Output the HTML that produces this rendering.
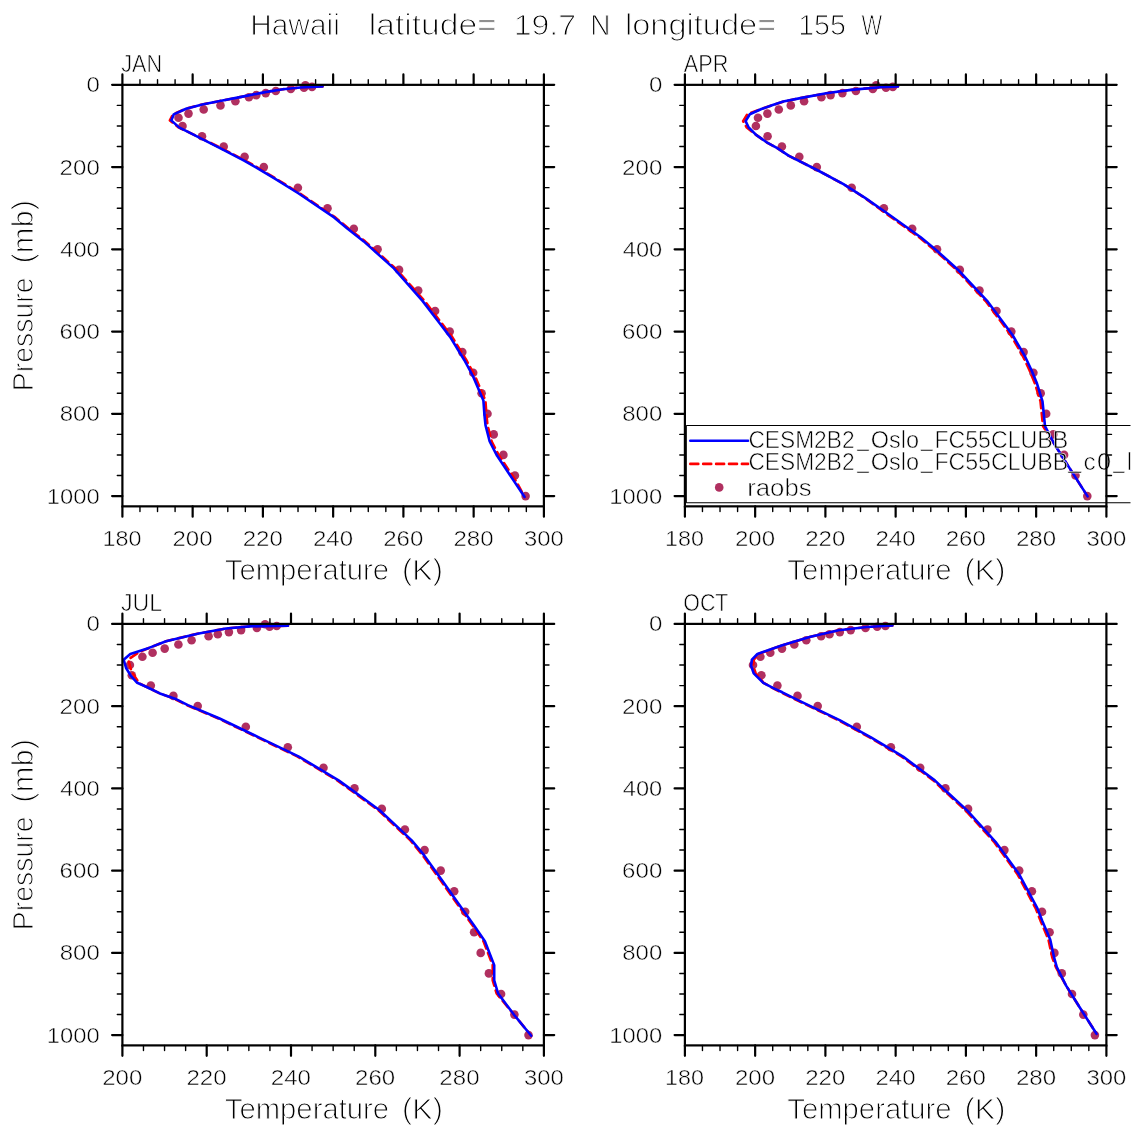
<!DOCTYPE html><html><head><meta charset="utf-8"><title>Hawaii profiles</title><style>html,body{margin:0;padding:0;background:#fff;overflow:hidden}svg{display:block;will-change:transform}text{font-family:"Liberation Sans",Arial,sans-serif;fill:#000;stroke:#fff}</style></head><body>
<svg width="1135" height="1135" viewBox="0 0 1135 1135">
<rect width="1135" height="1135" fill="#fff"/>
<defs><clipPath id="cl"><rect x="0" y="0" width="1130.5" height="1135"/></clipPath></defs>
<circle cx="525.6" cy="496.1" r="4.3" fill="#b03060"/>
<circle cx="514.9" cy="475.5" r="4.3" fill="#b03060"/>
<circle cx="503.4" cy="454.9" r="4.3" fill="#b03060"/>
<circle cx="493.7" cy="434.4" r="4.3" fill="#b03060"/>
<circle cx="487.5" cy="413.8" r="4.3" fill="#b03060"/>
<circle cx="481.6" cy="393.3" r="4.3" fill="#b03060"/>
<circle cx="473.2" cy="372.7" r="4.3" fill="#b03060"/>
<circle cx="462.3" cy="352.1" r="4.3" fill="#b03060"/>
<circle cx="449.7" cy="331.6" r="4.3" fill="#b03060"/>
<circle cx="435.1" cy="311.0" r="4.3" fill="#b03060"/>
<circle cx="418.2" cy="290.5" r="4.3" fill="#b03060"/>
<circle cx="399.1" cy="269.9" r="4.3" fill="#b03060"/>
<circle cx="377.6" cy="249.3" r="4.3" fill="#b03060"/>
<circle cx="353.8" cy="228.8" r="4.3" fill="#b03060"/>
<circle cx="327.5" cy="208.2" r="4.3" fill="#b03060"/>
<circle cx="297.9" cy="187.7" r="4.3" fill="#b03060"/>
<circle cx="263.8" cy="167.1" r="4.3" fill="#b03060"/>
<circle cx="244.6" cy="156.8" r="4.3" fill="#b03060"/>
<circle cx="223.7" cy="146.5" r="4.3" fill="#b03060"/>
<circle cx="202.0" cy="136.3" r="4.3" fill="#b03060"/>
<circle cx="182.5" cy="126.0" r="4.3" fill="#b03060"/>
<circle cx="178.5" cy="117.7" r="4.3" fill="#b03060"/>
<circle cx="188.5" cy="113.6" r="4.3" fill="#b03060"/>
<circle cx="203.7" cy="109.5" r="4.3" fill="#b03060"/>
<circle cx="220.5" cy="105.4" r="4.3" fill="#b03060"/>
<circle cx="235.4" cy="101.3" r="4.3" fill="#b03060"/>
<circle cx="248.9" cy="97.2" r="4.3" fill="#b03060"/>
<circle cx="256.3" cy="95.1" r="4.3" fill="#b03060"/>
<circle cx="265.7" cy="93.1" r="4.3" fill="#b03060"/>
<circle cx="275.8" cy="91.0" r="4.3" fill="#b03060"/>
<circle cx="290.8" cy="89.0" r="4.3" fill="#b03060"/>
<circle cx="305.4" cy="85.3" r="4.3" fill="#b03060"/>
<circle cx="304.0" cy="87.7" r="4.3" fill="#b03060"/>
<circle cx="312.0" cy="86.9" r="4.3" fill="#b03060"/>
<circle cx="1087.3" cy="496.1" r="4.3" fill="#b03060"/>
<circle cx="1075.5" cy="475.5" r="4.3" fill="#b03060"/>
<circle cx="1064.1" cy="454.9" r="4.3" fill="#b03060"/>
<circle cx="1053.3" cy="434.4" r="4.3" fill="#b03060"/>
<circle cx="1046.2" cy="413.8" r="4.3" fill="#b03060"/>
<circle cx="1040.7" cy="393.3" r="4.3" fill="#b03060"/>
<circle cx="1033.4" cy="372.7" r="4.3" fill="#b03060"/>
<circle cx="1023.6" cy="352.1" r="4.3" fill="#b03060"/>
<circle cx="1011.3" cy="331.6" r="4.3" fill="#b03060"/>
<circle cx="996.5" cy="311.0" r="4.3" fill="#b03060"/>
<circle cx="979.5" cy="290.5" r="4.3" fill="#b03060"/>
<circle cx="959.8" cy="269.9" r="4.3" fill="#b03060"/>
<circle cx="937.0" cy="249.3" r="4.3" fill="#b03060"/>
<circle cx="912.2" cy="228.8" r="4.3" fill="#b03060"/>
<circle cx="883.9" cy="208.2" r="4.3" fill="#b03060"/>
<circle cx="851.7" cy="187.7" r="4.3" fill="#b03060"/>
<circle cx="816.8" cy="167.1" r="4.3" fill="#b03060"/>
<circle cx="799.3" cy="156.8" r="4.3" fill="#b03060"/>
<circle cx="781.9" cy="146.5" r="4.3" fill="#b03060"/>
<circle cx="767.6" cy="136.3" r="4.3" fill="#b03060"/>
<circle cx="755.9" cy="126.0" r="4.3" fill="#b03060"/>
<circle cx="758.0" cy="117.7" r="4.3" fill="#b03060"/>
<circle cx="767.4" cy="113.6" r="4.3" fill="#b03060"/>
<circle cx="778.8" cy="109.5" r="4.3" fill="#b03060"/>
<circle cx="790.8" cy="105.4" r="4.3" fill="#b03060"/>
<circle cx="804.1" cy="101.3" r="4.3" fill="#b03060"/>
<circle cx="821.4" cy="97.2" r="4.3" fill="#b03060"/>
<circle cx="830.6" cy="95.1" r="4.3" fill="#b03060"/>
<circle cx="842.4" cy="93.1" r="4.3" fill="#b03060"/>
<circle cx="855.9" cy="91.0" r="4.3" fill="#b03060"/>
<circle cx="872.8" cy="89.0" r="4.3" fill="#b03060"/>
<circle cx="876.2" cy="85.3" r="4.3" fill="#b03060"/>
<circle cx="886.0" cy="87.7" r="4.3" fill="#b03060"/>
<circle cx="892.8" cy="86.9" r="4.3" fill="#b03060"/>
<circle cx="528.5" cy="1035.1" r="4.3" fill="#b03060"/>
<circle cx="514.4" cy="1014.6" r="4.3" fill="#b03060"/>
<circle cx="501.1" cy="994.0" r="4.3" fill="#b03060"/>
<circle cx="488.9" cy="973.4" r="4.3" fill="#b03060"/>
<circle cx="480.7" cy="952.9" r="4.3" fill="#b03060"/>
<circle cx="474.1" cy="932.3" r="4.3" fill="#b03060"/>
<circle cx="465.2" cy="911.8" r="4.3" fill="#b03060"/>
<circle cx="454.2" cy="891.2" r="4.3" fill="#b03060"/>
<circle cx="440.7" cy="870.6" r="4.3" fill="#b03060"/>
<circle cx="424.6" cy="850.1" r="4.3" fill="#b03060"/>
<circle cx="404.9" cy="829.5" r="4.3" fill="#b03060"/>
<circle cx="381.8" cy="808.9" r="4.3" fill="#b03060"/>
<circle cx="354.5" cy="788.4" r="4.3" fill="#b03060"/>
<circle cx="323.5" cy="767.8" r="4.3" fill="#b03060"/>
<circle cx="287.8" cy="747.3" r="4.3" fill="#b03060"/>
<circle cx="245.8" cy="726.7" r="4.3" fill="#b03060"/>
<circle cx="197.7" cy="706.1" r="4.3" fill="#b03060"/>
<circle cx="173.4" cy="695.9" r="4.3" fill="#b03060"/>
<circle cx="150.8" cy="685.6" r="4.3" fill="#b03060"/>
<circle cx="131.8" cy="675.3" r="4.3" fill="#b03060"/>
<circle cx="129.9" cy="665.0" r="4.3" fill="#b03060"/>
<circle cx="142.4" cy="656.8" r="4.3" fill="#b03060"/>
<circle cx="152.6" cy="652.7" r="4.3" fill="#b03060"/>
<circle cx="164.7" cy="648.6" r="4.3" fill="#b03060"/>
<circle cx="178.4" cy="644.5" r="4.3" fill="#b03060"/>
<circle cx="191.6" cy="640.3" r="4.3" fill="#b03060"/>
<circle cx="208.6" cy="636.2" r="4.3" fill="#b03060"/>
<circle cx="217.8" cy="634.2" r="4.3" fill="#b03060"/>
<circle cx="228.9" cy="632.1" r="4.3" fill="#b03060"/>
<circle cx="241.1" cy="630.1" r="4.3" fill="#b03060"/>
<circle cx="256.9" cy="628.0" r="4.3" fill="#b03060"/>
<circle cx="265.1" cy="624.3" r="4.3" fill="#b03060"/>
<circle cx="269.6" cy="626.8" r="4.3" fill="#b03060"/>
<circle cx="276.7" cy="626.0" r="4.3" fill="#b03060"/>
<circle cx="1094.9" cy="1035.1" r="4.3" fill="#b03060"/>
<circle cx="1083.3" cy="1014.6" r="4.3" fill="#b03060"/>
<circle cx="1072.0" cy="994.0" r="4.3" fill="#b03060"/>
<circle cx="1061.8" cy="973.4" r="4.3" fill="#b03060"/>
<circle cx="1054.4" cy="952.9" r="4.3" fill="#b03060"/>
<circle cx="1049.6" cy="932.3" r="4.3" fill="#b03060"/>
<circle cx="1042.0" cy="911.8" r="4.3" fill="#b03060"/>
<circle cx="1031.9" cy="891.2" r="4.3" fill="#b03060"/>
<circle cx="1019.2" cy="870.6" r="4.3" fill="#b03060"/>
<circle cx="1004.4" cy="850.1" r="4.3" fill="#b03060"/>
<circle cx="987.5" cy="829.5" r="4.3" fill="#b03060"/>
<circle cx="968.1" cy="808.9" r="4.3" fill="#b03060"/>
<circle cx="945.4" cy="788.4" r="4.3" fill="#b03060"/>
<circle cx="920.2" cy="767.8" r="4.3" fill="#b03060"/>
<circle cx="890.9" cy="747.3" r="4.3" fill="#b03060"/>
<circle cx="856.8" cy="726.7" r="4.3" fill="#b03060"/>
<circle cx="817.7" cy="706.1" r="4.3" fill="#b03060"/>
<circle cx="797.5" cy="695.9" r="4.3" fill="#b03060"/>
<circle cx="777.4" cy="685.6" r="4.3" fill="#b03060"/>
<circle cx="761.4" cy="675.3" r="4.3" fill="#b03060"/>
<circle cx="753.0" cy="665.0" r="4.3" fill="#b03060"/>
<circle cx="760.4" cy="656.8" r="4.3" fill="#b03060"/>
<circle cx="770.3" cy="652.7" r="4.3" fill="#b03060"/>
<circle cx="782.0" cy="648.6" r="4.3" fill="#b03060"/>
<circle cx="794.3" cy="644.5" r="4.3" fill="#b03060"/>
<circle cx="806.3" cy="640.3" r="4.3" fill="#b03060"/>
<circle cx="821.1" cy="636.2" r="4.3" fill="#b03060"/>
<circle cx="829.5" cy="634.2" r="4.3" fill="#b03060"/>
<circle cx="839.8" cy="632.1" r="4.3" fill="#b03060"/>
<circle cx="850.7" cy="630.1" r="4.3" fill="#b03060"/>
<circle cx="865.5" cy="628.0" r="4.3" fill="#b03060"/>
<circle cx="877.2" cy="626.8" r="4.3" fill="#b03060"/>
<circle cx="885.4" cy="626.0" r="4.3" fill="#b03060"/>
<polyline points="322.5,86.4 300.5,87.5 282.9,89.2 265.2,92.1 247.6,95.6 240.0,97.1 219.9,101.0 202.3,104.5 186.1,108.7 173.0,114.4 169.9,120.4 178.6,127.4 190.0,132.9 223.2,149.1 245.3,160.6 257.6,167.6 275.2,178.2 299.9,193.5 335.3,217.4 348.5,228.5 365.1,241.4 395.5,268.4 424.5,300.9 440.3,321.5 452.1,336.9 466.4,360.2 474.9,376.0 485.4,400.4 486.4,414.5 487.5,425.1 491.7,441.5 499.1,455.8 507.6,468.4 516.0,481.1 524.6,497.0" fill="none" stroke="#f00" stroke-width="2.6" stroke-linecap="round" stroke-linejoin="round" stroke-dasharray="8.0 4.9"/>
<polyline points="322.5,86.4 300.5,87.5 282.9,89.2 265.2,92.1 247.6,95.6 240.0,97.1 219.9,101.0 202.3,104.5 186.1,108.7 173.7,114.4 171.3,120.4 179.0,127.4 190.0,132.9 222.0,149.1 244.1,160.6 256.4,167.6 274.0,178.2 298.7,193.5 334.1,217.4 347.3,228.5 363.8,241.4 393.9,268.4 422.5,300.9 438.3,321.5 450.1,336.9 464.4,360.2 472.9,376.0 483.4,400.4 484.4,414.5 485.5,425.1 489.7,441.5 497.1,455.8 505.6,468.4 514.0,481.1 524.6,497.0" fill="none" stroke="#00f" stroke-width="2.6" stroke-linecap="round" stroke-linejoin="round"/>
<polyline points="898.0,86.5 880.0,87.2 851.0,89.9 826.3,93.3 801.7,97.9 783.2,101.6 772.0,105.3 761.4,109.0 747.3,114.3 743.1,121.1 746.8,127.5 756.1,134.9 766.7,142.3 777.3,148.1 789.0,155.9 817.1,170.0 843.5,184.2 864.8,197.9 887.4,214.5 919.2,237.3 937.0,252.1 956.7,270.0 986.2,301.7 1010.8,335.0 1022.8,356.0 1029.4,370.0 1035.0,383.6 1040.5,401.4 1043.0,426.1 1054.3,444.0 1069.1,467.4 1087.6,496.4" fill="none" stroke="#f00" stroke-width="2.6" stroke-linecap="round" stroke-linejoin="round" stroke-dasharray="8.0 4.9"/>
<polyline points="898.0,86.5 880.0,87.2 851.0,89.9 826.3,93.3 801.7,97.9 783.2,101.6 772.0,105.3 761.4,109.0 749.8,114.3 745.6,121.1 748.7,127.5 756.1,134.9 766.7,142.3 777.3,148.1 789.0,155.9 817.1,170.0 843.5,184.2 865.1,197.9 888.9,214.5 920.7,237.3 938.5,252.1 958.2,270.0 987.8,301.7 1012.5,335.0 1024.8,356.0 1031.4,370.0 1037.0,383.6 1042.5,401.4 1045.0,426.1 1054.3,444.0 1069.1,467.4 1087.6,496.4" fill="none" stroke="#00f" stroke-width="2.6" stroke-linecap="round" stroke-linejoin="round"/>
<polyline points="288.0,625.8 249.8,626.4 226.0,628.5 197.5,633.7 166.0,641.2 149.0,647.9 138.8,652.2 128.2,659.6 129.3,663.3 131.4,671.2 137.2,680.2 139.5,683.5 146.7,687.0 159.6,693.4 174.3,698.7 186.7,705.1 218.4,718.5 258.1,737.6 297.6,756.6 337.3,780.4 348.7,788.6 378.3,810.2 410.4,840.4 422.6,855.2 441.1,881.1 455.9,902.1 473.0,926.1 483.5,941.3 492.7,965.1 492.7,980.3 496.6,993.5 514.0,1014.7 531.2,1035.8" fill="none" stroke="#f00" stroke-width="2.6" stroke-linecap="round" stroke-linejoin="round" stroke-dasharray="8.0 4.9"/>
<polyline points="288.0,625.8 249.8,626.4 226.0,628.5 197.5,633.7 166.0,641.2 149.0,647.9 130.3,654.0 123.7,659.8 126.1,668.0 130.9,675.9 137.2,682.8 146.7,687.0 159.9,693.4 175.0,698.7 187.9,705.1 219.6,718.5 259.3,737.6 298.9,756.6 338.6,780.4 350.0,788.6 379.6,810.2 411.7,840.4 424.0,855.2 442.5,881.1 457.3,902.1 474.4,926.1 484.9,941.3 494.2,965.1 494.2,980.3 498.1,993.5 514.0,1014.7 531.2,1035.8" fill="none" stroke="#00f" stroke-width="2.6" stroke-linecap="round" stroke-linejoin="round"/>
<polyline points="892.4,625.5 866.9,627.0 838.7,630.2 810.5,636.8 782.3,645.3 758.5,654.0 753.9,659.6 753.1,665.9 755.7,673.3 763.6,682.8 773.7,688.6 781.1,692.3 798.8,701.1 838.3,720.1 870.1,737.6 901.8,756.6 933.4,780.4 943.5,790.0 965.6,810.4 994.0,841.8 1017.3,873.9 1035.7,908.4 1040.6,920.9 1048.4,939.4 1052.4,957.9 1055.9,967.1 1066.1,985.6 1079.3,1006.8 1096.5,1033.8" fill="none" stroke="#f00" stroke-width="2.6" stroke-linecap="round" stroke-linejoin="round" stroke-dasharray="8.0 4.9"/>
<polyline points="892.4,625.5 866.9,627.0 838.7,630.2 810.5,636.8 782.3,645.3 757.4,654.0 751.9,659.6 751.1,665.9 753.7,673.3 763.3,682.8 774.4,688.6 782.3,692.3 800.0,701.1 839.6,720.1 871.4,737.6 903.1,756.6 934.8,780.4 944.9,790.0 967.1,810.4 995.5,841.8 1018.9,873.9 1037.4,908.4 1042.3,920.9 1050.2,939.4 1054.2,957.9 1056.8,967.1 1066.1,985.6 1079.3,1006.8 1096.5,1033.8" fill="none" stroke="#00f" stroke-width="2.6" stroke-linecap="round" stroke-linejoin="round"/>
<g clip-path="url(#cl)">
<path d="M686.3,425.5H1131M686.3,502.7H1131M686.3,425.5V502.7" stroke="#000" stroke-width="1.1" fill="none"/>
<line x1="690.3" y1="440.8" x2="748.1" y2="440.8" stroke="#00f" stroke-width="2.6" stroke-linecap="round"/>
<line x1="690.3" y1="463.9" x2="748.1" y2="463.9" stroke="#f00" stroke-width="2.6" stroke-linecap="round" stroke-dasharray="8.0 4.9"/>
<circle cx="719.2" cy="487.4" r="4.3" fill="#b03060"/>
<text x="748.43" y="447.91" font-size="23.91" textLength="106.12" lengthAdjust="spacingAndGlyphs" style="stroke-width:0.62px">CESM2B2</text>
<text x="870.67" y="447.91" font-size="23.91" textLength="48.32" lengthAdjust="spacingAndGlyphs" style="stroke-width:0.62px">Oslo</text>
<text x="934.39" y="447.91" font-size="23.91" textLength="133.84" lengthAdjust="spacingAndGlyphs" style="stroke-width:0.62px">FC55CLUBB</text>
<text x="857.30" y="445.71" font-size="23.91" textLength="11.58" lengthAdjust="spacingAndGlyphs" style="stroke-width:0.62px">_</text>
<text x="921.01" y="445.71" font-size="23.91" textLength="11.67" lengthAdjust="spacingAndGlyphs" style="stroke-width:0.62px">_</text>
<text x="748.43" y="470.11" font-size="23.91" textLength="106.12" lengthAdjust="spacingAndGlyphs" style="stroke-width:0.62px">CESM2B2</text>
<text x="870.67" y="470.11" font-size="23.91" textLength="48.32" lengthAdjust="spacingAndGlyphs" style="stroke-width:0.62px">Oslo</text>
<text x="934.39" y="470.11" font-size="23.91" textLength="133.84" lengthAdjust="spacingAndGlyphs" style="stroke-width:0.62px">FC55CLUBB</text>
<text x="857.30" y="467.91" font-size="23.91" textLength="11.58" lengthAdjust="spacingAndGlyphs" style="stroke-width:0.62px">_</text>
<text x="921.01" y="467.91" font-size="23.91" textLength="11.67" lengthAdjust="spacingAndGlyphs" style="stroke-width:0.62px">_</text>
<text x="1068.14" y="467.91" font-size="23.91" textLength="13.01" lengthAdjust="spacingAndGlyphs" style="stroke-width:0.62px">_</text>
<text x="1083.45" y="470.11" font-size="23.91" textLength="12.20" lengthAdjust="spacingAndGlyphs" style="stroke-width:0.62px">c</text>
<text x="1096.90" y="470.11" font-size="23.91" textLength="14.11" lengthAdjust="spacingAndGlyphs" style="stroke-width:0.62px">0</text>
<text x="1113.20" y="467.91" font-size="23.91" textLength="11.29" lengthAdjust="spacingAndGlyphs" style="stroke-width:0.62px">_</text>
<text x="1127.01" y="470.11" font-size="23.91" textLength="4.86" lengthAdjust="spacingAndGlyphs" style="stroke-width:0.62px">l</text>
<text x="747.17" y="495.71" font-size="23.91" textLength="64.57" lengthAdjust="spacingAndGlyphs" style="stroke-width:0.62px">raobs</text>
</g>
<text x="250.19" y="35.26" font-size="30.34" textLength="89.59" lengthAdjust="spacingAndGlyphs" style="stroke-width:1.13px">Hawaii</text>
<text x="368.77" y="35.26" font-size="30.34" textLength="127.95" lengthAdjust="spacingAndGlyphs" style="stroke-width:1.13px">latitude=</text>
<text x="513.70" y="35.26" font-size="30.34" textLength="62.38" lengthAdjust="spacingAndGlyphs" style="stroke-width:1.13px">19.7</text>
<text x="590.24" y="35.26" font-size="30.34" textLength="20.20" lengthAdjust="spacingAndGlyphs" style="stroke-width:1.13px">N</text>
<text x="625.04" y="35.26" font-size="30.34" textLength="151.12" lengthAdjust="spacingAndGlyphs" style="stroke-width:1.13px">longitude=</text>
<text x="798.16" y="35.26" font-size="30.34" textLength="47.70" lengthAdjust="spacingAndGlyphs" style="stroke-width:1.13px">155</text>
<text x="861.44" y="35.26" font-size="30.34" textLength="20.70" lengthAdjust="spacingAndGlyphs" style="stroke-width:1.13px">W</text>
<path d="M117.30,105.41H122.40M543.90,105.41H549.00M117.30,125.97H122.40M543.90,125.97H549.00M117.30,146.53H122.40M543.90,146.53H549.00M117.30,187.65H122.40M543.90,187.65H549.00M117.30,208.22H122.40M543.90,208.22H549.00M117.30,228.78H122.40M543.90,228.78H549.00M117.30,269.90H122.40M543.90,269.90H549.00M117.30,290.46H122.40M543.90,290.46H549.00M117.30,311.02H122.40M543.90,311.02H549.00M117.30,352.14H122.40M543.90,352.14H549.00M117.30,372.70H122.40M543.90,372.70H549.00M117.30,393.26H122.40M543.90,393.26H549.00M117.30,434.39H122.40M543.90,434.39H549.00M117.30,454.95H122.40M543.90,454.95H549.00M117.30,475.51H122.40M543.90,475.51H549.00M139.96,79.65V84.85M139.96,506.35V511.55M157.53,79.65V84.85M157.53,506.35V511.55M175.09,79.65V84.85M175.09,506.35V511.55M210.21,79.65V84.85M210.21,506.35V511.55M227.78,79.65V84.85M227.78,506.35V511.55M245.34,79.65V84.85M245.34,506.35V511.55M280.46,79.65V84.85M280.46,506.35V511.55M298.02,79.65V84.85M298.02,506.35V511.55M315.59,79.65V84.85M315.59,506.35V511.55M350.71,79.65V84.85M350.71,506.35V511.55M368.27,79.65V84.85M368.27,506.35V511.55M385.84,79.65V84.85M385.84,506.35V511.55M420.96,79.65V84.85M420.96,506.35V511.55M438.52,79.65V84.85M438.52,506.35V511.55M456.09,79.65V84.85M456.09,506.35V511.55M491.21,79.65V84.85M491.21,506.35V511.55M508.77,79.65V84.85M508.77,506.35V511.55M526.34,79.65V84.85M526.34,506.35V511.55" stroke="#000" stroke-width="1.4" stroke-linecap="round" fill="none"/>
<path d="M112.10,84.85H122.40M543.90,84.85H554.20M112.10,167.09H122.40M543.90,167.09H554.20M112.10,249.34H122.40M543.90,249.34H554.20M112.10,331.58H122.40M543.90,331.58H554.20M112.10,413.83H122.40M543.90,413.83H554.20M112.10,496.07H122.40M543.90,496.07H554.20M122.40,74.45V84.85M122.40,506.35V516.75M192.65,74.45V84.85M192.65,506.35V516.75M262.90,74.45V84.85M262.90,506.35V516.75M333.15,74.45V84.85M333.15,506.35V516.75M403.40,74.45V84.85M403.40,506.35V516.75M473.65,74.45V84.85M473.65,506.35V516.75M543.90,74.45V84.85M543.90,506.35V516.75" stroke="#000" stroke-width="2.2" stroke-linecap="round" fill="none"/>
<rect x="122.40" y="84.85" width="421.5" height="421.5" fill="none" stroke="#000" stroke-width="2.2"/>
<text x="86.41" y="92.30" font-size="22.33" textLength="13.38" lengthAdjust="spacingAndGlyphs" style="stroke-width:0.50px">0</text>
<text x="59.64" y="174.54" font-size="22.33" textLength="40.15" lengthAdjust="spacingAndGlyphs" style="stroke-width:0.50px">200</text>
<text x="60.31" y="256.79" font-size="22.33" textLength="39.47" lengthAdjust="spacingAndGlyphs" style="stroke-width:0.50px">400</text>
<text x="59.63" y="339.03" font-size="22.33" textLength="40.16" lengthAdjust="spacingAndGlyphs" style="stroke-width:0.50px">600</text>
<text x="59.81" y="421.28" font-size="22.33" textLength="39.98" lengthAdjust="spacingAndGlyphs" style="stroke-width:0.50px">800</text>
<text x="46.84" y="503.52" font-size="22.33" textLength="52.94" lengthAdjust="spacingAndGlyphs" style="stroke-width:0.50px">1000</text>
<text x="102.52" y="545.70" font-size="22.33" textLength="38.89" lengthAdjust="spacingAndGlyphs" style="stroke-width:0.50px">180</text>
<text x="172.44" y="545.70" font-size="22.33" textLength="40.15" lengthAdjust="spacingAndGlyphs" style="stroke-width:0.50px">200</text>
<text x="242.69" y="545.70" font-size="22.33" textLength="40.15" lengthAdjust="spacingAndGlyphs" style="stroke-width:0.50px">220</text>
<text x="312.94" y="545.70" font-size="22.33" textLength="40.15" lengthAdjust="spacingAndGlyphs" style="stroke-width:0.50px">240</text>
<text x="383.19" y="545.70" font-size="22.33" textLength="40.15" lengthAdjust="spacingAndGlyphs" style="stroke-width:0.50px">260</text>
<text x="453.44" y="545.70" font-size="22.33" textLength="40.15" lengthAdjust="spacingAndGlyphs" style="stroke-width:0.50px">280</text>
<text x="523.99" y="545.70" font-size="22.33" textLength="39.84" lengthAdjust="spacingAndGlyphs" style="stroke-width:0.50px">300</text>
<text x="121.24" y="72.08" font-size="24.25" textLength="40.75" lengthAdjust="spacingAndGlyphs" style="stroke-width:0.65px">JAN</text>
<text x="224.84" y="580.06" font-size="29.10" textLength="164.25" lengthAdjust="spacingAndGlyphs" style="stroke-width:1.03px">Temperature</text>
<text x="402.09" y="580.06" font-size="29.10" textLength="40.83" lengthAdjust="spacingAndGlyphs" style="stroke-width:1.03px">(K)</text>
<text transform="translate(32.51,388.91) rotate(-90)" x="-2.34" y="0" font-size="29.10" textLength="113.93" lengthAdjust="spacingAndGlyphs" style="stroke-width:1.03px">Pressure</text>
<text transform="translate(32.51,261.71) rotate(-90)" x="-1.92" y="0" font-size="29.10" textLength="63.67" lengthAdjust="spacingAndGlyphs" style="stroke-width:1.03px">(mb)</text>
<path d="M679.80,105.41H684.90M1106.40,105.41H1111.50M679.80,125.97H684.90M1106.40,125.97H1111.50M679.80,146.53H684.90M1106.40,146.53H1111.50M679.80,187.65H684.90M1106.40,187.65H1111.50M679.80,208.22H684.90M1106.40,208.22H1111.50M679.80,228.78H684.90M1106.40,228.78H1111.50M679.80,269.90H684.90M1106.40,269.90H1111.50M679.80,290.46H684.90M1106.40,290.46H1111.50M679.80,311.02H684.90M1106.40,311.02H1111.50M679.80,352.14H684.90M1106.40,352.14H1111.50M679.80,372.70H684.90M1106.40,372.70H1111.50M679.80,393.26H684.90M1106.40,393.26H1111.50M679.80,434.39H684.90M1106.40,434.39H1111.50M679.80,454.95H684.90M1106.40,454.95H1111.50M679.80,475.51H684.90M1106.40,475.51H1111.50M702.46,79.65V84.85M702.46,506.35V511.55M720.02,79.65V84.85M720.02,506.35V511.55M737.59,79.65V84.85M737.59,506.35V511.55M772.71,79.65V84.85M772.71,506.35V511.55M790.27,79.65V84.85M790.27,506.35V511.55M807.84,79.65V84.85M807.84,506.35V511.55M842.96,79.65V84.85M842.96,506.35V511.55M860.52,79.65V84.85M860.52,506.35V511.55M878.09,79.65V84.85M878.09,506.35V511.55M913.21,79.65V84.85M913.21,506.35V511.55M930.77,79.65V84.85M930.77,506.35V511.55M948.34,79.65V84.85M948.34,506.35V511.55M983.46,79.65V84.85M983.46,506.35V511.55M1001.02,79.65V84.85M1001.02,506.35V511.55M1018.59,79.65V84.85M1018.59,506.35V511.55M1053.71,79.65V84.85M1053.71,506.35V511.55M1071.28,79.65V84.85M1071.28,506.35V511.55M1088.84,79.65V84.85M1088.84,506.35V511.55" stroke="#000" stroke-width="1.4" stroke-linecap="round" fill="none"/>
<path d="M674.60,84.85H684.90M1106.40,84.85H1116.70M674.60,167.09H684.90M1106.40,167.09H1116.70M674.60,249.34H684.90M1106.40,249.34H1116.70M674.60,331.58H684.90M1106.40,331.58H1116.70M674.60,413.83H684.90M1106.40,413.83H1116.70M674.60,496.07H684.90M1106.40,496.07H1116.70M684.90,74.45V84.85M684.90,506.35V516.75M755.15,74.45V84.85M755.15,506.35V516.75M825.40,74.45V84.85M825.40,506.35V516.75M895.65,74.45V84.85M895.65,506.35V516.75M965.90,74.45V84.85M965.90,506.35V516.75M1036.15,74.45V84.85M1036.15,506.35V516.75M1106.40,74.45V84.85M1106.40,506.35V516.75" stroke="#000" stroke-width="2.2" stroke-linecap="round" fill="none"/>
<rect x="684.90" y="84.85" width="421.5" height="421.5" fill="none" stroke="#000" stroke-width="2.2"/>
<text x="648.91" y="92.30" font-size="22.33" textLength="13.38" lengthAdjust="spacingAndGlyphs" style="stroke-width:0.50px">0</text>
<text x="622.14" y="174.54" font-size="22.33" textLength="40.15" lengthAdjust="spacingAndGlyphs" style="stroke-width:0.50px">200</text>
<text x="622.81" y="256.79" font-size="22.33" textLength="39.47" lengthAdjust="spacingAndGlyphs" style="stroke-width:0.50px">400</text>
<text x="622.13" y="339.03" font-size="22.33" textLength="40.16" lengthAdjust="spacingAndGlyphs" style="stroke-width:0.50px">600</text>
<text x="622.31" y="421.28" font-size="22.33" textLength="39.98" lengthAdjust="spacingAndGlyphs" style="stroke-width:0.50px">800</text>
<text x="609.34" y="503.52" font-size="22.33" textLength="52.94" lengthAdjust="spacingAndGlyphs" style="stroke-width:0.50px">1000</text>
<text x="665.02" y="545.70" font-size="22.33" textLength="38.89" lengthAdjust="spacingAndGlyphs" style="stroke-width:0.50px">180</text>
<text x="734.94" y="545.70" font-size="22.33" textLength="40.15" lengthAdjust="spacingAndGlyphs" style="stroke-width:0.50px">200</text>
<text x="805.19" y="545.70" font-size="22.33" textLength="40.15" lengthAdjust="spacingAndGlyphs" style="stroke-width:0.50px">220</text>
<text x="875.44" y="545.70" font-size="22.33" textLength="40.15" lengthAdjust="spacingAndGlyphs" style="stroke-width:0.50px">240</text>
<text x="945.69" y="545.70" font-size="22.33" textLength="40.15" lengthAdjust="spacingAndGlyphs" style="stroke-width:0.50px">260</text>
<text x="1015.94" y="545.70" font-size="22.33" textLength="40.15" lengthAdjust="spacingAndGlyphs" style="stroke-width:0.50px">280</text>
<text x="1086.49" y="545.70" font-size="22.33" textLength="39.84" lengthAdjust="spacingAndGlyphs" style="stroke-width:0.50px">300</text>
<text x="683.83" y="72.08" font-size="24.25" textLength="44.60" lengthAdjust="spacingAndGlyphs" style="stroke-width:0.65px">APR</text>
<text x="787.34" y="580.06" font-size="29.10" textLength="164.25" lengthAdjust="spacingAndGlyphs" style="stroke-width:1.03px">Temperature</text>
<text x="964.59" y="580.06" font-size="29.10" textLength="40.83" lengthAdjust="spacingAndGlyphs" style="stroke-width:1.03px">(K)</text>
<path d="M117.30,644.46H122.40M543.90,644.46H549.00M117.30,665.02H122.40M543.90,665.02H549.00M117.30,685.58H122.40M543.90,685.58H549.00M117.30,726.70H122.40M543.90,726.70H549.00M117.30,747.27H122.40M543.90,747.27H549.00M117.30,767.83H122.40M543.90,767.83H549.00M117.30,808.95H122.40M543.90,808.95H549.00M117.30,829.51H122.40M543.90,829.51H549.00M117.30,850.07H122.40M543.90,850.07H549.00M117.30,891.19H122.40M543.90,891.19H549.00M117.30,911.75H122.40M543.90,911.75H549.00M117.30,932.31H122.40M543.90,932.31H549.00M117.30,973.44H122.40M543.90,973.44H549.00M117.30,994.00H122.40M543.90,994.00H549.00M117.30,1014.56H122.40M543.90,1014.56H549.00M143.47,618.70V623.90M143.47,1045.40V1050.60M164.55,618.70V623.90M164.55,1045.40V1050.60M185.62,618.70V623.90M185.62,1045.40V1050.60M227.78,618.70V623.90M227.78,1045.40V1050.60M248.85,618.70V623.90M248.85,1045.40V1050.60M269.93,618.70V623.90M269.93,1045.40V1050.60M312.07,618.70V623.90M312.07,1045.40V1050.60M333.15,618.70V623.90M333.15,1045.40V1050.60M354.23,618.70V623.90M354.23,1045.40V1050.60M396.38,618.70V623.90M396.38,1045.40V1050.60M417.45,618.70V623.90M417.45,1045.40V1050.60M438.52,618.70V623.90M438.52,1045.40V1050.60M480.67,618.70V623.90M480.67,1045.40V1050.60M501.75,618.70V623.90M501.75,1045.40V1050.60M522.83,618.70V623.90M522.83,1045.40V1050.60" stroke="#000" stroke-width="1.4" stroke-linecap="round" fill="none"/>
<path d="M112.10,623.90H122.40M543.90,623.90H554.20M112.10,706.14H122.40M543.90,706.14H554.20M112.10,788.39H122.40M543.90,788.39H554.20M112.10,870.63H122.40M543.90,870.63H554.20M112.10,952.88H122.40M543.90,952.88H554.20M112.10,1035.12H122.40M543.90,1035.12H554.20M122.40,613.50V623.90M122.40,1045.40V1055.80M206.70,613.50V623.90M206.70,1045.40V1055.80M291.00,613.50V623.90M291.00,1045.40V1055.80M375.30,613.50V623.90M375.30,1045.40V1055.80M459.60,613.50V623.90M459.60,1045.40V1055.80M543.90,613.50V623.90M543.90,1045.40V1055.80" stroke="#000" stroke-width="2.2" stroke-linecap="round" fill="none"/>
<rect x="122.40" y="623.90" width="421.5" height="421.5" fill="none" stroke="#000" stroke-width="2.2"/>
<text x="86.41" y="631.35" font-size="22.33" textLength="13.38" lengthAdjust="spacingAndGlyphs" style="stroke-width:0.50px">0</text>
<text x="59.64" y="713.59" font-size="22.33" textLength="40.15" lengthAdjust="spacingAndGlyphs" style="stroke-width:0.50px">200</text>
<text x="60.31" y="795.84" font-size="22.33" textLength="39.47" lengthAdjust="spacingAndGlyphs" style="stroke-width:0.50px">400</text>
<text x="59.63" y="878.08" font-size="22.33" textLength="40.16" lengthAdjust="spacingAndGlyphs" style="stroke-width:0.50px">600</text>
<text x="59.81" y="960.33" font-size="22.33" textLength="39.98" lengthAdjust="spacingAndGlyphs" style="stroke-width:0.50px">800</text>
<text x="46.84" y="1042.57" font-size="22.33" textLength="52.94" lengthAdjust="spacingAndGlyphs" style="stroke-width:0.50px">1000</text>
<text x="102.19" y="1084.75" font-size="22.33" textLength="40.15" lengthAdjust="spacingAndGlyphs" style="stroke-width:0.50px">200</text>
<text x="186.49" y="1084.75" font-size="22.33" textLength="40.15" lengthAdjust="spacingAndGlyphs" style="stroke-width:0.50px">220</text>
<text x="270.79" y="1084.75" font-size="22.33" textLength="40.15" lengthAdjust="spacingAndGlyphs" style="stroke-width:0.50px">240</text>
<text x="355.09" y="1084.75" font-size="22.33" textLength="40.15" lengthAdjust="spacingAndGlyphs" style="stroke-width:0.50px">260</text>
<text x="439.39" y="1084.75" font-size="22.33" textLength="40.15" lengthAdjust="spacingAndGlyphs" style="stroke-width:0.50px">280</text>
<text x="523.99" y="1084.75" font-size="22.33" textLength="39.84" lengthAdjust="spacingAndGlyphs" style="stroke-width:0.50px">300</text>
<text x="121.01" y="611.13" font-size="24.25" textLength="41.18" lengthAdjust="spacingAndGlyphs" style="stroke-width:0.65px">JUL</text>
<text x="224.84" y="1119.11" font-size="29.10" textLength="164.25" lengthAdjust="spacingAndGlyphs" style="stroke-width:1.03px">Temperature</text>
<text x="402.09" y="1119.11" font-size="29.10" textLength="40.83" lengthAdjust="spacingAndGlyphs" style="stroke-width:1.03px">(K)</text>
<text transform="translate(32.51,927.96) rotate(-90)" x="-2.34" y="0" font-size="29.10" textLength="113.93" lengthAdjust="spacingAndGlyphs" style="stroke-width:1.03px">Pressure</text>
<text transform="translate(32.51,800.76) rotate(-90)" x="-1.92" y="0" font-size="29.10" textLength="63.67" lengthAdjust="spacingAndGlyphs" style="stroke-width:1.03px">(mb)</text>
<path d="M679.80,644.46H684.90M1106.40,644.46H1111.50M679.80,665.02H684.90M1106.40,665.02H1111.50M679.80,685.58H684.90M1106.40,685.58H1111.50M679.80,726.70H684.90M1106.40,726.70H1111.50M679.80,747.27H684.90M1106.40,747.27H1111.50M679.80,767.83H684.90M1106.40,767.83H1111.50M679.80,808.95H684.90M1106.40,808.95H1111.50M679.80,829.51H684.90M1106.40,829.51H1111.50M679.80,850.07H684.90M1106.40,850.07H1111.50M679.80,891.19H684.90M1106.40,891.19H1111.50M679.80,911.75H684.90M1106.40,911.75H1111.50M679.80,932.31H684.90M1106.40,932.31H1111.50M679.80,973.44H684.90M1106.40,973.44H1111.50M679.80,994.00H684.90M1106.40,994.00H1111.50M679.80,1014.56H684.90M1106.40,1014.56H1111.50M702.46,618.70V623.90M702.46,1045.40V1050.60M720.02,618.70V623.90M720.02,1045.40V1050.60M737.59,618.70V623.90M737.59,1045.40V1050.60M772.71,618.70V623.90M772.71,1045.40V1050.60M790.27,618.70V623.90M790.27,1045.40V1050.60M807.84,618.70V623.90M807.84,1045.40V1050.60M842.96,618.70V623.90M842.96,1045.40V1050.60M860.52,618.70V623.90M860.52,1045.40V1050.60M878.09,618.70V623.90M878.09,1045.40V1050.60M913.21,618.70V623.90M913.21,1045.40V1050.60M930.77,618.70V623.90M930.77,1045.40V1050.60M948.34,618.70V623.90M948.34,1045.40V1050.60M983.46,618.70V623.90M983.46,1045.40V1050.60M1001.02,618.70V623.90M1001.02,1045.40V1050.60M1018.59,618.70V623.90M1018.59,1045.40V1050.60M1053.71,618.70V623.90M1053.71,1045.40V1050.60M1071.28,618.70V623.90M1071.28,1045.40V1050.60M1088.84,618.70V623.90M1088.84,1045.40V1050.60" stroke="#000" stroke-width="1.4" stroke-linecap="round" fill="none"/>
<path d="M674.60,623.90H684.90M1106.40,623.90H1116.70M674.60,706.14H684.90M1106.40,706.14H1116.70M674.60,788.39H684.90M1106.40,788.39H1116.70M674.60,870.63H684.90M1106.40,870.63H1116.70M674.60,952.88H684.90M1106.40,952.88H1116.70M674.60,1035.12H684.90M1106.40,1035.12H1116.70M684.90,613.50V623.90M684.90,1045.40V1055.80M755.15,613.50V623.90M755.15,1045.40V1055.80M825.40,613.50V623.90M825.40,1045.40V1055.80M895.65,613.50V623.90M895.65,1045.40V1055.80M965.90,613.50V623.90M965.90,1045.40V1055.80M1036.15,613.50V623.90M1036.15,1045.40V1055.80M1106.40,613.50V623.90M1106.40,1045.40V1055.80" stroke="#000" stroke-width="2.2" stroke-linecap="round" fill="none"/>
<rect x="684.90" y="623.90" width="421.5" height="421.5" fill="none" stroke="#000" stroke-width="2.2"/>
<text x="648.91" y="631.35" font-size="22.33" textLength="13.38" lengthAdjust="spacingAndGlyphs" style="stroke-width:0.50px">0</text>
<text x="622.14" y="713.59" font-size="22.33" textLength="40.15" lengthAdjust="spacingAndGlyphs" style="stroke-width:0.50px">200</text>
<text x="622.81" y="795.84" font-size="22.33" textLength="39.47" lengthAdjust="spacingAndGlyphs" style="stroke-width:0.50px">400</text>
<text x="622.13" y="878.08" font-size="22.33" textLength="40.16" lengthAdjust="spacingAndGlyphs" style="stroke-width:0.50px">600</text>
<text x="622.31" y="960.33" font-size="22.33" textLength="39.98" lengthAdjust="spacingAndGlyphs" style="stroke-width:0.50px">800</text>
<text x="609.34" y="1042.57" font-size="22.33" textLength="52.94" lengthAdjust="spacingAndGlyphs" style="stroke-width:0.50px">1000</text>
<text x="665.02" y="1084.75" font-size="22.33" textLength="38.89" lengthAdjust="spacingAndGlyphs" style="stroke-width:0.50px">180</text>
<text x="734.94" y="1084.75" font-size="22.33" textLength="40.15" lengthAdjust="spacingAndGlyphs" style="stroke-width:0.50px">200</text>
<text x="805.19" y="1084.75" font-size="22.33" textLength="40.15" lengthAdjust="spacingAndGlyphs" style="stroke-width:0.50px">220</text>
<text x="875.44" y="1084.75" font-size="22.33" textLength="40.15" lengthAdjust="spacingAndGlyphs" style="stroke-width:0.50px">240</text>
<text x="945.69" y="1084.75" font-size="22.33" textLength="40.15" lengthAdjust="spacingAndGlyphs" style="stroke-width:0.50px">260</text>
<text x="1015.94" y="1084.75" font-size="22.33" textLength="40.15" lengthAdjust="spacingAndGlyphs" style="stroke-width:0.50px">280</text>
<text x="1086.49" y="1084.75" font-size="22.33" textLength="39.84" lengthAdjust="spacingAndGlyphs" style="stroke-width:0.50px">300</text>
<text x="683.26" y="611.13" font-size="24.25" textLength="45.15" lengthAdjust="spacingAndGlyphs" style="stroke-width:0.65px">OCT</text>
<text x="787.34" y="1119.11" font-size="29.10" textLength="164.25" lengthAdjust="spacingAndGlyphs" style="stroke-width:1.03px">Temperature</text>
<text x="964.59" y="1119.11" font-size="29.10" textLength="40.83" lengthAdjust="spacingAndGlyphs" style="stroke-width:1.03px">(K)</text>
</svg></body></html>
